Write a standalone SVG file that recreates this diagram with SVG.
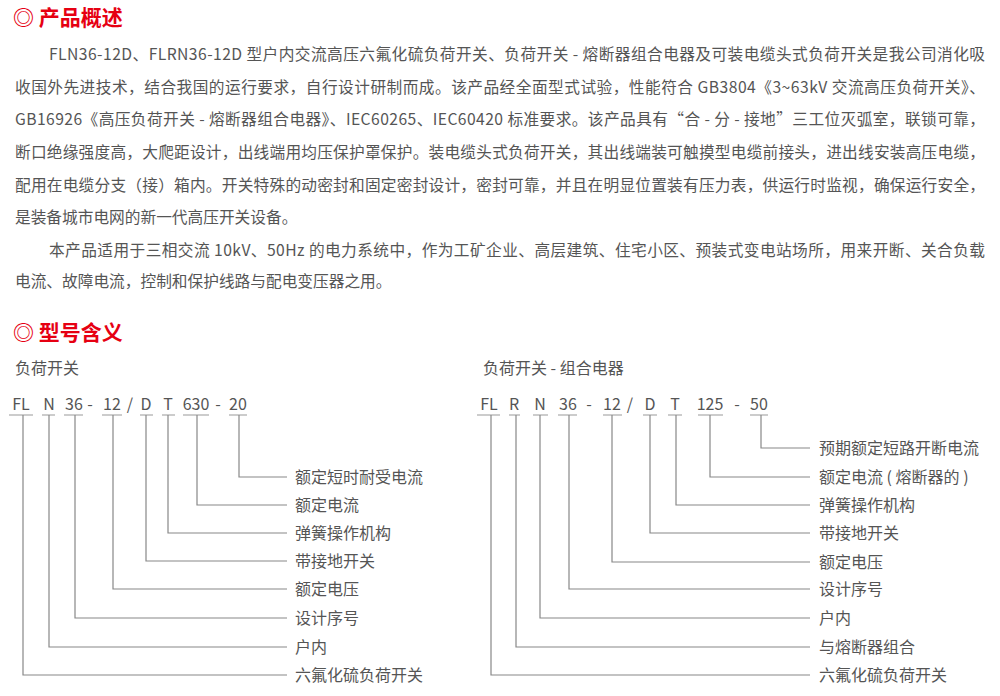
<svg xmlns="http://www.w3.org/2000/svg" width="1000" height="696" viewBox="0 0 1000 696">
<style>
.h{font:bold 21px "Noto Sans CJK SC",sans-serif;fill:#e60012}
.p{font:15.7px "Noto Sans CJK SC",sans-serif;fill:#555}
.c{font:16px "Noto Sans CJK SC",sans-serif;fill:#555;text-anchor:middle}
.l{font:16px "Noto Sans CJK SC",sans-serif;fill:#555}
.u{stroke:#999;stroke-width:1.2;fill:none}
.k{stroke:#888;stroke-width:1.2;fill:none}
</style>
<rect width="1000" height="696" fill="#fff"/>
<text class="h" x="13" y="25">◎ 产品概述</text>
<g class="p">
<text x="49" y="60" textLength="936" lengthAdjust="spacing">FLN36-12D、FLRN36-12D 型户内交流高压六氟化硫负荷开关、负荷开关 - 熔断器组合电器及可装电缆头式负荷开关是我公司消化吸</text>
<text x="15" y="93" textLength="970" lengthAdjust="spacing">收国外先进技术，结合我国的运行要求，自行设计研制而成。该产品经全面型式试验，性能符合 GB3804《3~63kV 交流高压负荷开关》、</text>
<text x="15" y="125" textLength="970" lengthAdjust="spacing">GB16926《高压负荷开关 - 熔断器组合电器》、IEC60265、IEC60420 标准要求。该产品具有“合 - 分 - 接地”三工位灭弧室，联锁可靠，</text>
<text x="15" y="158" textLength="970" lengthAdjust="spacing">断口绝缘强度高，大爬距设计，出线端用均压保护罩保护。装电缆头式负荷开关，其出线端装可触摸型电缆前接头，进出线安装高压电缆，</text>
<text x="15" y="191" textLength="970" lengthAdjust="spacing">配用在电缆分支（接）箱内。开关特殊的动密封和固定密封设计，密封可靠，并且在明显位置装有压力表，供运行时监视，确保运行安全，</text>
<text x="15" y="223">是装备城市电网的新一代高压开关设备。</text>
<text x="49" y="256" textLength="936" lengthAdjust="spacing">本产品适用于三相交流 10kV、50Hz 的电力系统中，作为工矿企业、高层建筑、住宅小区、预装式变电站场所，用来开断、关合负载</text>
<text x="15" y="287">电流、故障电流，控制和保护线路与配电变压器之用。</text>
</g>
<text class="h" x="13" y="340">◎ 型号含义</text>
<text class="l" x="15" y="374">负荷开关</text>
<text class="l" x="483" y="374">负荷开关 - 组合电器</text>

<g id="left-code">
<g class="c">
<text x="21" y="410">FL</text><text x="49" y="410">N</text><text x="74" y="410">36</text><text x="90" y="410">-</text>
<text x="112" y="410">12</text><text x="130" y="410">/</text><text x="146" y="410">D</text><text x="168" y="410">T</text>
<text x="196" y="410">630</text><text x="218" y="410">-</text><text x="238" y="410">20</text>
</g>
<path class="u" d="M9 415H33M42 415H55M64 415H83M102 415H122M140 415H153M162 415H175M183 415H209M229 415H247"/>
</g>
<g id="left-connectors">
<path class="k" d="M239 415V477H287M197 415V505H287M168 415V533H287M146 415V561H287M113 415V589H287M75 415V618H287M49 415V647H287M23 415V675H287"/>
</g>
<g id="left-labels" class="l">
<text x="295" y="483">额定短时耐受电流</text>
<text x="295" y="511">额定电流</text>
<text x="295" y="539">弹簧操作机构</text>
<text x="295" y="567">带接地开关</text>
<text x="295" y="595">额定电压</text>
<text x="295" y="624">设计序号</text>
<text x="295" y="653">户内</text>
<text x="295" y="681">六氟化硫负荷开关</text>
</g>

<g id="right-code">
<g class="c">
<text x="489" y="410">FL</text><text x="514" y="410">R</text><text x="540" y="410">N</text><text x="568" y="410">36</text><text x="589" y="410">-</text>
<text x="612" y="410">12</text><text x="630" y="410">/</text><text x="650" y="410">D</text><text x="675" y="410">T</text>
<text x="710" y="410">125</text><text x="737" y="410">-</text><text x="759" y="410">50</text>
</g>
<path class="u" d="M477 415H500M509 415H520M533 415H548M558 415H577M603 415H622M643 415H657M668 415H682M698 415H723M750 415H768"/>
</g>
<g id="right-connectors">
<path class="k" d="M761 415V448H810M710 415V477H810M676 415V505H810M650 415V533H810M612 415V562H810M569 415V589H810M540 415V618H810M516 415V647H810M491 415V675H810"/>
</g>
<g id="right-labels" class="l">
<text x="819" y="454">预期额定短路开断电流</text>
<text x="819" y="483">额定电流 ( 熔断器的 )</text>
<text x="819" y="511">弹簧操作机构</text>
<text x="819" y="539">带接地开关</text>
<text x="819" y="568">额定电压</text>
<text x="819" y="595">设计序号</text>
<text x="819" y="624">户内</text>
<text x="819" y="653">与熔断器组合</text>
<text x="819" y="681">六氟化硫负荷开关</text>
</g>
</svg>
